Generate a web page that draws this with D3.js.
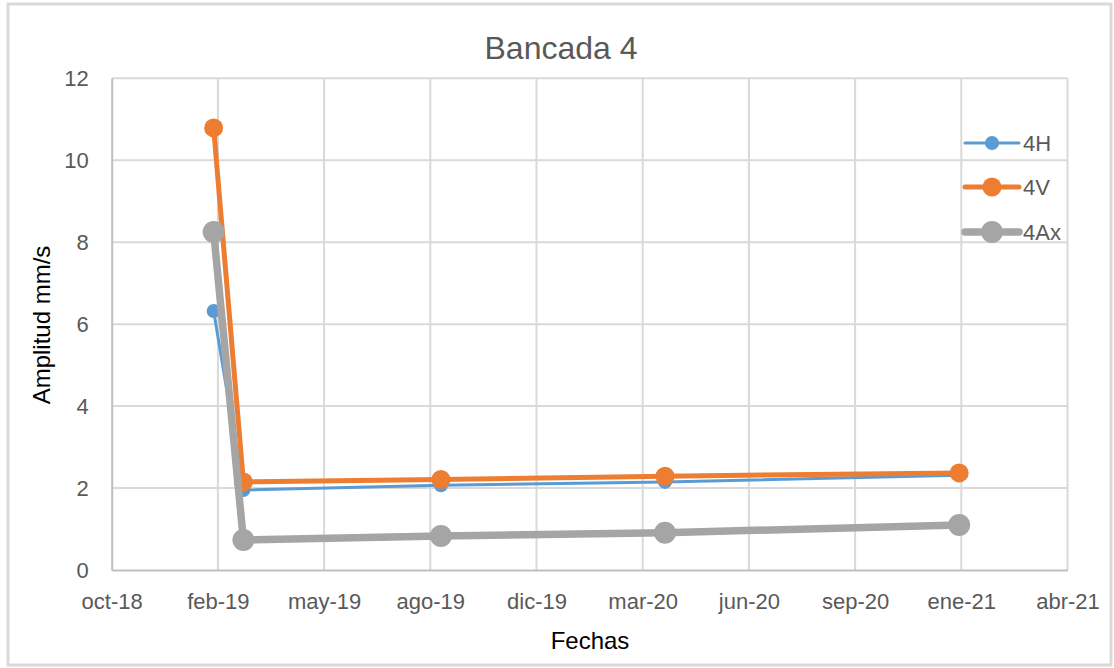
<!DOCTYPE html>
<html>
<head>
<meta charset="utf-8">
<script src="https://cdn.jsdelivr.net/npm/d3@7"></script>
<style>
  html, body { margin: 0; padding: 0; background: #ffffff; }
  svg { display: block; }
  text { font-family: "Liberation Sans", Arial, sans-serif; }
</style>
</head>
<body>
<svg id="chart" width="1114" height="668"></svg>
<script>
// ---- data ----
const fechas = ["2019-02-01", "2019-03-01", "2019-09-03", "2020-04-01", "2021-01-03"];
const serie4H  = [6.32, 1.95, 2.07, 2.15, 2.31];
const serie4V  = [10.79, 2.15, 2.21, 2.29, 2.37];
const serie4Ax = [8.25, 0.73, 0.83, 0.91, 1.10];
const seriesNames = ["4H", "4V", "4Ax"];
const xTickDates  = ["2018-10-28", "2019-02-05", "2019-05-16", "2019-08-24", "2019-12-02",
                     "2020-03-11", "2020-06-19", "2020-09-27", "2021-01-05", "2021-04-15"];
const xTickLabels = ["oct-18", "feb-19", "may-19", "ago-19", "dic-19",
                     "mar-20", "jun-20", "sep-20", "ene-21", "abr-21"];
const yTicks = [0, 2, 4, 6, 8, 10, 12];
const titulo = "Bancada 4";
const tituloX = "Fechas";
const tituloY = "Amplitud mm/s";

// ---- setup ----
const parse = d3.utcParse("%Y-%m-%d");
const svg = d3.select("#chart");
const m = { left: 111.7, right: 1067.5, top: 78.3, bottom: 570 };
const FONT = '"Liberation Sans", Arial, sans-serif';

svg.append("rect").attr("x", 8).attr("y", 4).attr("width", 1103).attr("height", 661)
  .attr("fill", "#ffffff").attr("stroke", "#d9d9d9").attr("stroke-width", 3);

const x = d3.scaleUtc()
  .domain([parse(xTickDates[0]), parse(xTickDates[xTickDates.length - 1])])
  .range([m.left, m.right]);
const y = d3.scaleLinear().domain([0, 12]).range([m.bottom, m.top]);

// gridlines
const grid = svg.append("g");
grid.selectAll("line.h").data(yTicks.filter(d => d > 0)).join("line")
  .attr("x1", m.left).attr("x2", m.right)
  .attr("y1", d => y(d)).attr("y2", d => y(d))
  .attr("stroke", "#d9d9d9").attr("stroke-width", 2);
grid.selectAll("line.v").data(xTickDates.slice(1)).join("line")
  .attr("x1", d => x(parse(d))).attr("x2", d => x(parse(d)))
  .attr("y1", m.top).attr("y2", m.bottom)
  .attr("stroke", "#d9d9d9").attr("stroke-width", 2);

// axes
const xAxis = d3.axisBottom(x)
  .tickValues(xTickDates.map(parse))
  .tickFormat((d, i) => xTickLabels[i])
  .tickSize(0).tickPadding(23);
const gx = svg.append("g").attr("transform", `translate(0,${m.bottom})`).call(xAxis);
gx.select(".domain").attr("stroke", "#bfbfbf").attr("stroke-width", 2);
gx.selectAll("text").attr("fill", "#595959").attr("font-size", 22).attr("font-family", FONT);

const yAxis = d3.axisLeft(y).tickValues(yTicks).tickSize(0).tickPadding(23);
const gy = svg.append("g").attr("transform", `translate(${m.left},0)`).call(yAxis);
gy.select(".domain").attr("stroke", "#bfbfbf").attr("stroke-width", 2);
gy.selectAll("text").attr("fill", "#595959").attr("font-size", 22).attr("font-family", FONT);

// series
const series = [
  { name: seriesNames[0], values: serie4H,  color: "#5b9bd5", lw: 3,   r: 7 },
  { name: seriesNames[1], values: serie4V,  color: "#ed7d31", lw: 5,   r: 9.5 },
  { name: seriesNames[2], values: serie4Ax, color: "#a5a5a5", lw: 7.5, r: 11 }
];
const line = d3.line().x(d => x(d.date)).y(d => y(d.v));
series.forEach(s => {
  const pts = fechas.map((f, i) => ({ date: parse(f), v: s.values[i] }));
  const g = svg.append("g");
  g.append("path").datum(pts).attr("d", line)
    .attr("fill", "none").attr("stroke", s.color).attr("stroke-width", s.lw)
    .attr("stroke-linejoin", "round").attr("stroke-linecap", "round");
  g.selectAll("circle").data(pts).join("circle")
    .attr("cx", d => x(d.date)).attr("cy", d => y(d.v)).attr("r", s.r)
    .attr("fill", s.color);
});

// legend
const legY = [143, 187, 232];
series.forEach((s, i) => {
  const g = svg.append("g").attr("transform", `translate(0,${legY[i]})`);
  g.append("line").attr("x1", 965).attr("x2", 1019).attr("y1", 0).attr("y2", 0)
    .attr("stroke", s.color).attr("stroke-width", s.lw).attr("stroke-linecap", "round");
  g.append("circle").attr("cx", 992).attr("cy", 0).attr("r", s.r).attr("fill", s.color);
  g.append("text").attr("x", 1023).attr("y", 0).attr("dy", "0.35em")
    .attr("font-size", 22).attr("fill", "#595959").text(s.name);
});

// titles
svg.append("text").attr("x", 561).attr("y", 48).attr("dy", "0.35em")
  .attr("text-anchor", "middle").attr("font-size", 32).attr("fill", "#595959").text(titulo);
svg.append("text").attr("x", 590).attr("y", 641).attr("dy", "0.35em")
  .attr("text-anchor", "middle").attr("font-size", 24).attr("fill", "#000000").text(tituloX);
svg.append("text").attr("transform", "translate(42,325) rotate(-90)").attr("dy", "0.35em")
  .attr("text-anchor", "middle").attr("font-size", 24).attr("fill", "#000000").text(tituloY);
</script>
</body>
</html>
